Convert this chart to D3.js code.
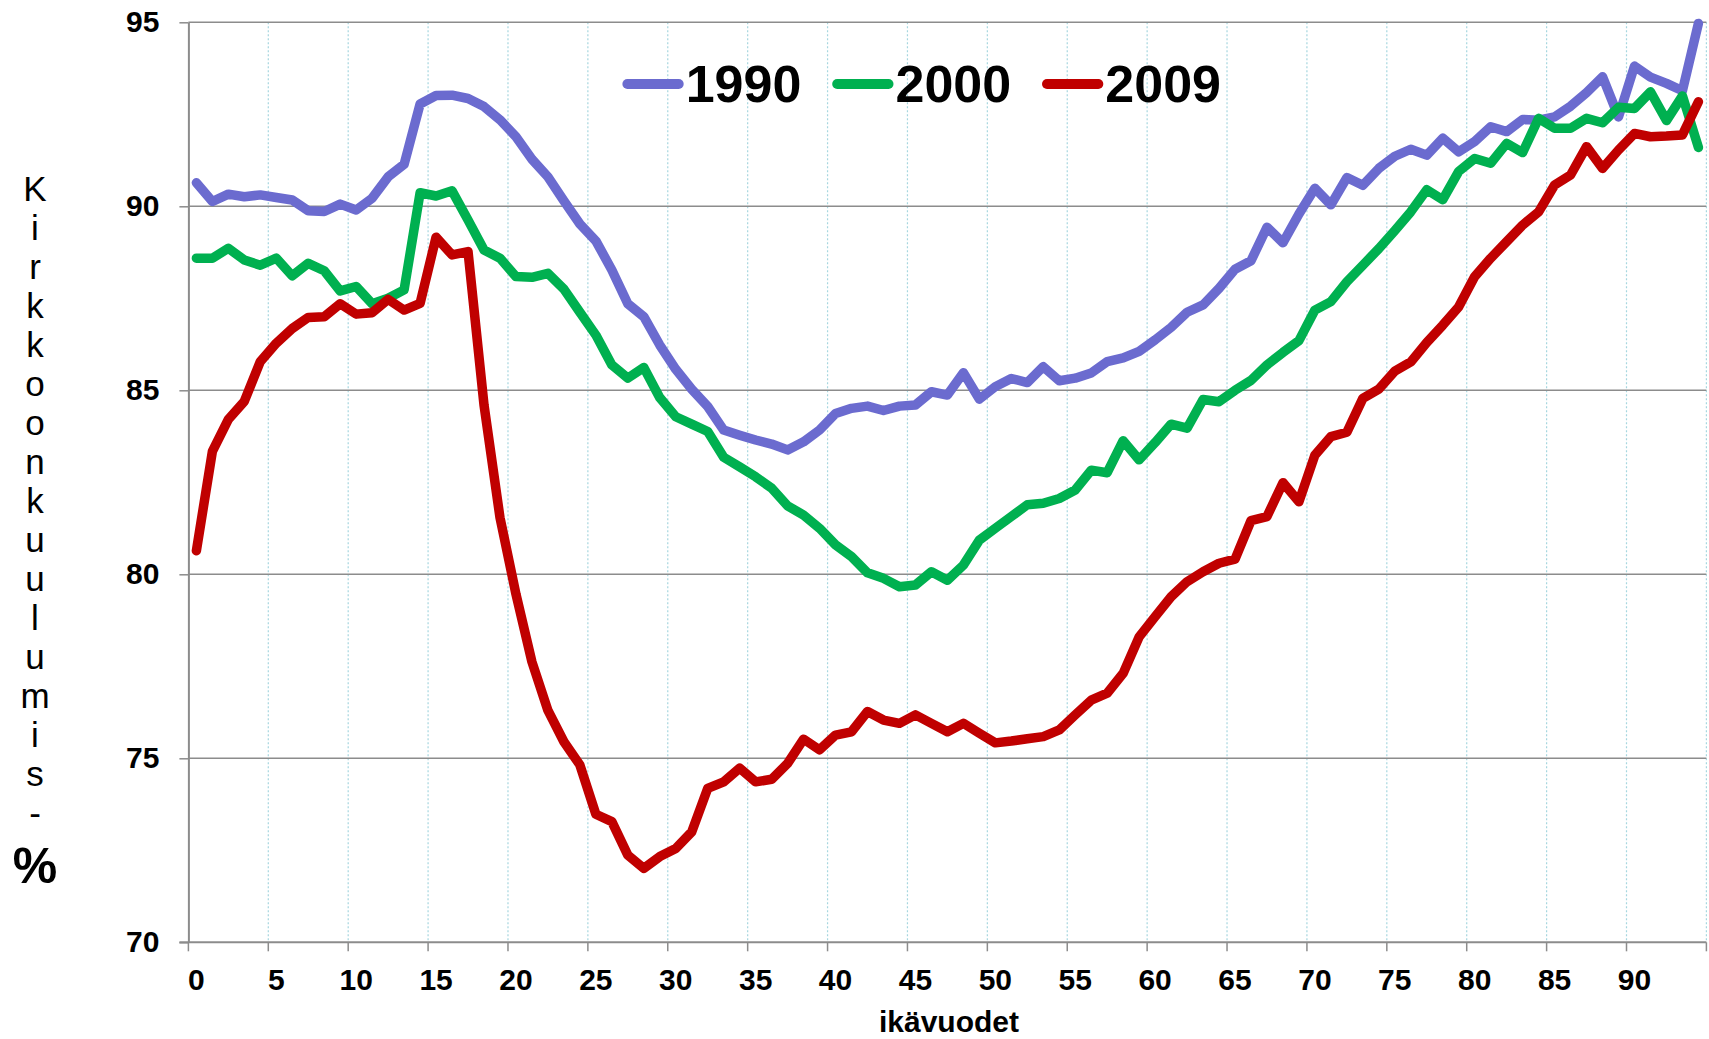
<!DOCTYPE html>
<html><head><meta charset="utf-8">
<script src="https://cdn.jsdelivr.net/npm/d3@7"></script>
<style>body{margin:0;background:#fff} svg{display:block}</style>
</head><body><svg id="c" width="1709" height="1039"></svg>
<script>
const ages = [0,1,2,3,4,5,6,7,8,9,10,11,12,13,14,15,16,17,18,19,20,21,22,23,24,25,26,27,28,29,30,31,32,33,34,35,36,37,38,39,40,41,42,43,44,45,46,47,48,49,50,51,52,53,54,55,56,57,58,59,60,61,62,63,64,65,66,67,68,69,70,71,72,73,74,75,76,77,78,79,80,81,82,83,84,85,86,87,88,89,90,91,92,93,94];
const xTickLabels = ["0","5","10","15","20","25","30","35","40","45","50","55","60","65","70","75","80","85","90"];
const yTickValues = [70,75,80,85,90,95];

const series1990 = [90.64,90.13,90.33,90.26,90.31,90.24,90.17,89.88,89.86,90.06,89.90,90.22,90.80,91.14,92.78,93.01,93.02,92.93,92.71,92.35,91.89,91.28,90.80,90.15,89.52,89.06,88.27,87.35,87.00,86.23,85.57,85.03,84.56,83.92,83.78,83.65,83.54,83.38,83.60,83.92,84.37,84.51,84.57,84.45,84.57,84.60,84.96,84.87,85.48,84.76,85.10,85.32,85.21,85.64,85.26,85.33,85.47,85.78,85.88,86.06,86.37,86.71,87.12,87.32,87.77,88.29,88.52,89.43,89.01,89.79,90.49,90.04,90.78,90.57,91.03,91.36,91.55,91.39,91.85,91.48,91.76,92.16,92.03,92.36,92.34,92.43,92.72,93.09,93.52,92.43,93.81,93.51,93.34,93.14,94.97];
const series2000 = [88.59,88.59,88.86,88.54,88.40,88.59,88.11,88.45,88.25,87.70,87.82,87.35,87.50,87.73,90.37,90.28,90.42,89.63,88.81,88.59,88.09,88.07,88.18,87.75,87.12,86.50,85.69,85.33,85.62,84.80,84.28,84.08,83.88,83.18,82.92,82.65,82.34,81.86,81.61,81.25,80.80,80.48,80.04,79.89,79.66,79.71,80.07,79.84,80.25,80.93,81.25,81.57,81.89,81.93,82.06,82.29,82.83,82.76,83.63,83.11,83.58,84.08,83.97,84.75,84.69,85.00,85.27,85.69,86.03,86.35,87.18,87.41,87.95,88.40,88.85,89.34,89.85,90.45,90.18,90.95,91.30,91.17,91.71,91.46,92.39,92.12,92.12,92.39,92.27,92.69,92.66,93.11,92.33,93.00,91.60];
const series2009 = [80.64,83.34,84.21,84.70,85.78,86.28,86.68,86.98,87.00,87.35,87.07,87.11,87.47,87.18,87.36,89.16,88.68,88.77,84.60,81.54,79.46,77.62,76.30,75.45,74.82,73.48,73.28,72.37,72.01,72.33,72.55,73.00,74.18,74.36,74.73,74.36,74.43,74.86,75.52,75.23,75.63,75.72,76.27,76.04,75.95,76.18,75.95,75.72,75.95,75.68,75.42,75.47,75.53,75.59,75.77,76.18,76.58,76.77,77.31,78.30,78.85,79.39,79.80,80.07,80.30,80.41,81.46,81.57,82.49,81.97,83.24,83.74,83.86,84.78,85.03,85.52,85.77,86.30,86.77,87.27,88.09,88.59,89.04,89.49,89.85,90.58,90.85,91.62,91.03,91.53,91.98,91.89,91.91,91.94,92.84];

const seriesNames = ["1990","2000","2009"];
const seriesColors = ["#6B6BCF","#00B050","#C00000"];
const yTitleLetters = "Kirkkoonkuulumis-";
const yTitleUnit = "%";
const xTitle = "ikävuodet";

(function () {
const FONT = "'Liberation Sans', Arial, Helvetica, sans-serif";
const svg = d3.select("#c");
const pL = 188.4, pR = 1706.4, pT = 22.3, pB = 942.3;

const x = d3.scaleBand().domain(ages).range([pL, pR]).padding(0);
const y = d3.scaleLinear().domain([70, 95]).range([pB, pT]);
const cx = a => x(a) + x.bandwidth() / 2;

// vertical dotted gridlines at every 5th category boundary
const vBounds = ages.filter(a => a > 0 && a % 5 === 0).map(a => x(a)).concat([pR]);
svg.append("g").selectAll("line").data(vBounds).join("line")
  .attr("x1", d => d).attr("x2", d => d).attr("y1", pT).attr("y2", pB)
  .attr("stroke", "#a6d6df").attr("stroke-width", 1.2).attr("stroke-dasharray", "2,2");

// horizontal gridlines
svg.append("g").selectAll("line").data(yTickValues.filter(v => v > 70)).join("line")
  .attr("x1", pL).attr("x2", pR).attr("y1", d => y(d)).attr("y2", d => y(d))
  .attr("stroke", "#8c8c8c").attr("stroke-width", 1.5);

// y axis
const yAxis = svg.append("g").attr("transform", `translate(${pL},0)`)
  .call(d3.axisLeft(y).tickValues(yTickValues).tickSize(9).tickSizeOuter(0).tickPadding(20));
yAxis.select(".domain").attr("stroke", "#8c8c8c").attr("stroke-width", 2);
yAxis.selectAll(".tick line").attr("stroke", "#8c8c8c").attr("stroke-width", 1.5);
yAxis.selectAll(".tick text").attr("font-family", FONT).attr("font-size", 30).attr("font-weight", "bold").attr("fill", "#000");

// x axis line and ticks at boundaries
svg.append("line").attr("x1", pL - 9).attr("x2", pR).attr("y1", pB).attr("y2", pB)
  .attr("stroke", "#8c8c8c").attr("stroke-width", 2);
const xTickPos = [pL].concat(vBounds);
svg.append("g").selectAll("line").data(xTickPos).join("line")
  .attr("x1", d => d).attr("x2", d => d).attr("y1", pB).attr("y2", pB + 9)
  .attr("stroke", "#8c8c8c").attr("stroke-width", 1.5);
svg.append("g").selectAll("text").data(xTickLabels).join("text")
  .attr("x", d => cx(+d)).attr("y", 990).attr("text-anchor", "middle")
  .attr("font-family", FONT).attr("font-size", 30).attr("font-weight", "bold").text(d => d);

// x title
svg.append("text").attr("x", 949).attr("y", 1032).attr("text-anchor", "middle")
  .attr("font-family", FONT).attr("font-size", 30).attr("font-weight", "bold").text(xTitle);

// y title (stacked letters)
const yt = svg.append("text").attr("font-family", FONT).attr("text-anchor", "middle");
yTitleLetters.split("").forEach((ch, i) => {
  yt.append("tspan").attr("x", 35).attr("y", 201 + i * 39.0).attr("font-size", 35).text(ch);
});
yt.append("tspan").attr("x", 35).attr("y", 883).attr("font-size", 50).attr("font-weight", "bold").text(yTitleUnit);

// lines
const allSeries = [series1990, series2000, series2009];
const line = d3.line().x((d, i) => cx(ages[i])).y(d => y(d));
svg.append("g").selectAll("path").data(allSeries).join("path")
  .attr("d", d => line(d)).attr("fill", "none")
  .attr("stroke", (d, i) => seriesColors[i]).attr("stroke-width", 9.5)
  .attr("stroke-linejoin", "round").attr("stroke-linecap", "round");

// legend
const legX0 = 627.4, legStep = 209.8, legY = 84;
const leg = svg.append("g").selectAll("g").data(seriesNames).join("g")
  .attr("transform", (d, i) => `translate(${legX0 + i * legStep},0)`);
leg.append("line").attr("x1", 0).attr("x2", 51.3).attr("y1", legY).attr("y2", legY)
  .attr("stroke", (d, i) => seriesColors[i]).attr("stroke-width", 10).attr("stroke-linecap", "round");
leg.append("text").attr("x", 58.3).attr("y", 101.7)
  .attr("font-family", FONT).attr("font-size", 52).attr("font-weight", "bold").text(d => d);
})();
</script></body></html>
